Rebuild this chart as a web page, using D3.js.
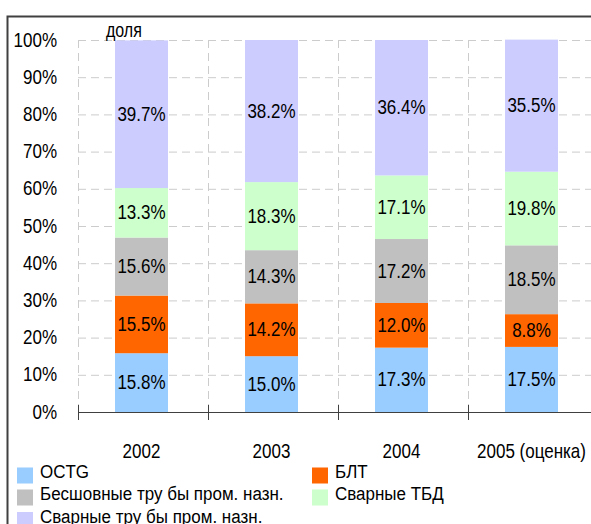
<!DOCTYPE html>
<html>
<head>
<meta charset="utf-8">
<script src="https://cdn.jsdelivr.net/npm/d3@7"></script>
<style>
  body { margin: 0; background: #fff; }
  svg { display: block; font-family: "Liberation Sans", Arial, sans-serif; }
</style>
</head>
<body>
<svg width="591" height="524"></svg>
<script>
// данные
const years = ["2002", "2003", "2004", "2005 (оценка)"];
const series = ["OCTG", "БЛТ", "Бесшовные тру бы пром. назн.", "Сварные ТБД", "Сварные тру бы пром. назн."];
const octg = [15.8, 15.0, 17.3, 17.5];
const blt = [15.5, 14.2, 12.0, 8.8];
const seamless = [15.6, 14.3, 17.2, 18.5];
const weldedLD = [13.3, 18.3, 17.1, 19.8];
const weldedInd = [39.7, 38.2, 36.4, 35.5];
const yTicks = [0, 10, 20, 30, 40, 50, 60, 70, 80, 90, 100];
const colors = ["#99ccff", "#ff6600", "#c0c0c0", "#ccffcc", "#ccccff"];

const table = years.map((y, i) => ({
  year: y,
  [series[0]]: octg[i],
  [series[1]]: blt[i],
  [series[2]]: seamless[i],
  [series[3]]: weldedLD[i],
  [series[4]]: weldedInd[i]
}));

const svg = d3.select("svg");
const fs = 17, sy = 1.22;   // текст в оригинале вытянут по вертикали

const x = d3.scaleBand().domain(years).range([78, 598]);
const y = d3.scaleLinear().domain([0, 100]).range([412, 40]);
const barW = 53;

// рамка
svg.append("path")
  .attr("d", "M7.5,524 V16.5 H591")
  .attr("fill", "none").attr("stroke", "#404040").attr("stroke-width", 2);

// сетка
svg.append("g").selectAll("line")
  .data(yTicks.filter(d => d > 0))
  .join("line")
  .attr("x1", 78).attr("x2", 598)
  .attr("y1", d => y(d) + 0.5).attr("y2", d => y(d) + 0.5)
  .attr("stroke", "#cccccc").attr("stroke-dasharray", "8,5");

svg.append("g").selectAll("line")
  .data(years)
  .join("line")
  .attr("x1", d => x(d) + 0.5).attr("x2", d => x(d) + 0.5)
  .attr("y1", y(100)).attr("y2", y(0))
  .attr("stroke", "#cccccc").attr("stroke-dasharray", "8,5");

// столбцы
const stacked = d3.stack().keys(series)(table);
const layer = svg.append("g").selectAll("g")
  .data(stacked)
  .join("g")
  .attr("fill", (d, i) => colors[i]);

layer.selectAll("rect")
  .data(d => d)
  .join("rect")
  .attr("x", d => x(d.data.year) + x.bandwidth() / 2 - 1.5 - barW / 2)
  .attr("width", barW)
  .attr("y", d => y(d[1]))
  .attr("height", d => y(d[0]) - y(d[1]));

// подписи значений
stacked.forEach(s => {
  svg.append("g").selectAll("text")
    .data(s)
    .join("text")
    .attr("transform", d => "translate(" + (x(d.data.year) + x.bandwidth() / 2 - 1.5) + "," +
      (y((d[0] + d[1]) / 2) + 6.5) + ") scale(1," + sy + ")")
    .attr("text-anchor", "middle")
    .attr("font-size", fs)
    .attr("fill", "#000")
    .text(d => (d[1] - d[0]).toFixed(1) + "%");
});

// ось X
const xAxis = svg.append("g");
xAxis.append("line")
  .attr("x1", 78).attr("x2", 598)
  .attr("y1", 412.5).attr("y2", 412.5)
  .attr("stroke", "#404040");
xAxis.selectAll(".tk")
  .data(years)
  .join("line")
  .attr("x1", d => x(d) + 0.5).attr("x2", d => x(d) + 0.5)
  .attr("y1", 405).attr("y2", 420)
  .attr("stroke", "#404040");
xAxis.selectAll("text")
  .data(years)
  .join("text")
  .attr("transform", d => "translate(" + (x(d) + x.bandwidth() / 2 - 1.5) + ",458) scale(1," + sy + ")")
  .attr("text-anchor", "middle")
  .attr("font-size", fs)
  .text(d => d);

// ось Y
svg.append("g").selectAll("text")
  .data(yTicks)
  .join("text")
  .attr("transform", d => "translate(57," + (y(d) + 6.5) + ") scale(1," + sy + ")")
  .attr("text-anchor", "end")
  .attr("font-size", fs)
  .text(d => d + "%");

svg.append("text")
  .attr("transform", "translate(106,37) scale(1," + sy + ")")
  .attr("font-size", 16)
  .text("доля");

// легенда
const legPos = [[17, 475.5], [312, 475.5], [17, 497.5], [312, 497.5], [17, 520]];
const leg = svg.append("g").selectAll("g")
  .data(series)
  .join("g")
  .attr("transform", (d, i) => "translate(" + legPos[i][0] + "," + legPos[i][1] + ")");
leg.append("rect")
  .attr("x", 0).attr("y", -8).attr("width", 16).attr("height", 16)
  .attr("fill", (d, i) => colors[i]);
leg.append("text")
  .attr("transform", "translate(23,2.5) scale(1,1.12)")
  .attr("font-size", fs)
  .text(d => d);
</script>
</body>
</html>
